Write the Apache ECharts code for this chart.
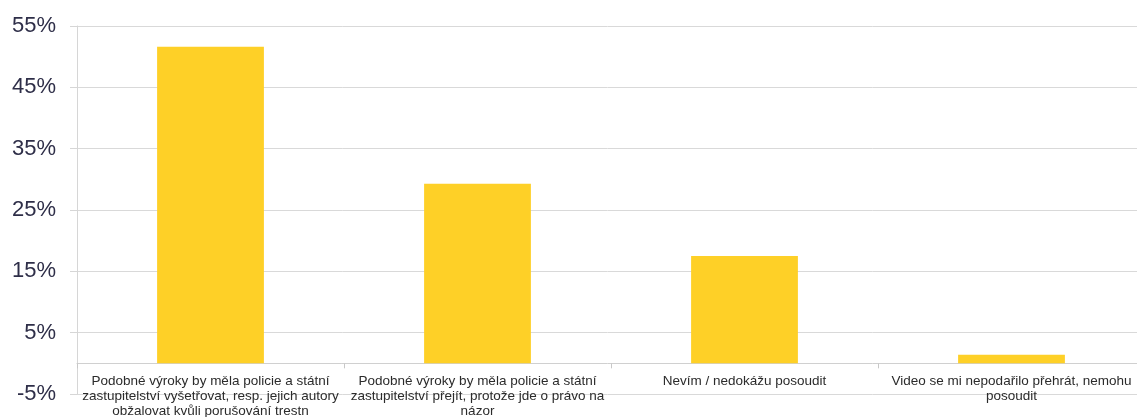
<!DOCTYPE html>
<html>
<head>
<meta charset="utf-8">
<script src="https://cdn.jsdelivr.net/npm/echarts@6/dist/echarts.min.js"></script>
<style>
html,body{margin:0;padding:0;background:#fff;}
#chart{width:1137px;height:417px;}
</style>
</head>
<body>
<div id="chart"></div>
<script>
const categories = [
  "Podobné výroky by měla policie a státní\nzastupitelství vyšetřovat, resp. jejich autory\nobžalovat kvůli porušování trestn",
  "Podobné výroky by měla policie a státní\nzastupitelství přejít, protože jde o právo na\nnázor",
  "Nevím / nedokážu posoudit",
  "Video se mi nepodařilo přehrát, nemohu\nposoudit"
];
const values = [51.6, 29.3, 17.5, 1.4];
const yTicks = { min: -5, max: 55, interval: 10 };

const chart = echarts.init(document.getElementById('chart'), null, {renderer: 'canvas'});
chart.setOption({
  animation: false,
  textStyle: { fontFamily: 'Liberation Sans, Arial, sans-serif' },
  grid: { left: 77, top: 26, bottom: 23, width: 1068, containLabel: false, outerBoundsMode: 'none' },
  xAxis: {
    type: 'category',
    data: categories,
    axisLine: { show: true, onZero: true, lineStyle: { color: '#d0d0d0', width: 1 } },
    axisTick: { show: true, length: 5, alignWithLabel: false, lineStyle: { color: '#c8c8c8' } },
    axisLabel: {
      interval: 0,
      margin: -20,
      fontSize: 13.5,
      lineHeight: 15,
      color: '#2b2b2b',
      fontFamily: 'Liberation Sans, Arial, sans-serif'
    }
  },
  yAxis: {
    type: 'value',
    min: yTicks.min,
    max: yTicks.max,
    interval: yTicks.interval,
    axisLine: { show: true, lineStyle: { color: '#d6d6d6' } },
    axisTick: { show: true, length: 7, lineStyle: { color: '#d6d6d6' } },
    axisLabel: {
      margin: 21,
      fontSize: 22,
      color: '#2e2e48',
      fontFamily: 'Liberation Sans, Arial, sans-serif',
      formatter: v => v + '%'
    },
    splitLine: { show: true, lineStyle: { color: '#d9d9d9', width: 1 } }
  },
  series: [{
    type: 'bar',
    data: values,
    barWidth: '40%',
    itemStyle: { color: '#FED027' }
  }]
});
</script>
</body>
</html>
